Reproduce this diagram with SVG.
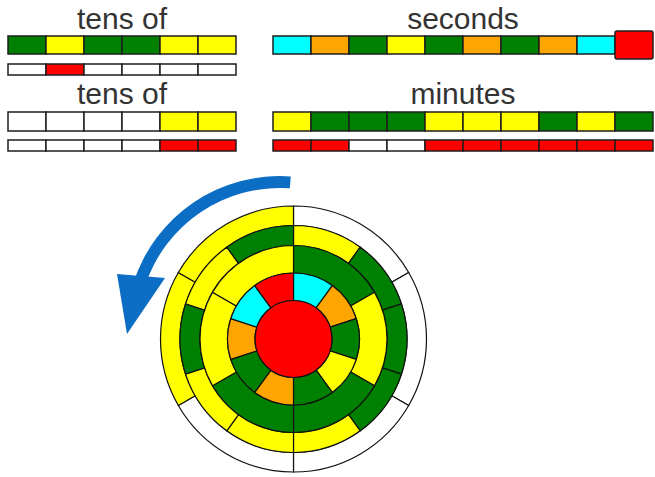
<svg xmlns="http://www.w3.org/2000/svg" xmlns:xlink="http://www.w3.org/1999/xlink" width="655" height="477" viewBox="0 0 655 477">
<style>
.lbl{font-family:"Liberation Sans",Arial,sans-serif;font-size:30px;fill:#333;text-anchor:middle}
.g{fill:#008000}.y{fill:#ffff00}.c{fill:#00ffff}.o{fill:#ffa500}.r{fill:#ff0000}.w{fill:#ffffff}
.cells rect{stroke:#1e1e1e;stroke-width:1.5}
.clock use,.clock circle{stroke:#111;stroke-width:1.2}
.arrow{fill:#0b6ec4}
</style>
<defs>
<path id="sa" d="M0,-66 A66,66 0 0 1 38.794,-53.395 L22.630,-31.147 A38.5,38.5 0 0 0 0,-38.5 Z"/>
<path id="sb" d="M0,-93.5 A93.5,93.5 0 0 1 80.973,-46.75 L57.158,-33 A66,66 0 0 0 0,-66 Z"/>
<path id="sc" d="M0,-113.5 A113.5,113.5 0 0 1 66.714,-91.823 L54.958,-75.643 A93.5,93.5 0 0 0 0,-93.5 Z"/>
<path id="sd" d="M0,-133 A133,133 0 0 1 115.181,-66.5 L98.294,-56.75 A113.5,113.5 0 0 0 0,-113.5 Z"/>
</defs>
<rect width="655" height="477" fill="#fff"/>
<g id="labels">
<text class="lbl" x="122" y="29">tens of</text>
<text class="lbl" x="463" y="29">seconds</text>
<text class="lbl" x="122" y="104">tens of</text>
<text class="lbl" x="463" y="104">minutes</text>
</g>
<g id="bar-tens-1" class="cells">
<rect class="g" x="8" y="36" width="38" height="18"/><rect class="y" x="46" y="36" width="38" height="18"/><rect class="g" x="84" y="36" width="38" height="18"/><rect class="g" x="122" y="36" width="38" height="18"/><rect class="y" x="160" y="36" width="38" height="18"/><rect class="y" x="198" y="36" width="38" height="18"/>
<rect class="w" x="8" y="64" width="38" height="11"/><rect class="r" x="46" y="64" width="38" height="11"/><rect class="w" x="84" y="64" width="38" height="11"/><rect class="w" x="122" y="64" width="38" height="11"/><rect class="w" x="160" y="64" width="38" height="11"/><rect class="w" x="198" y="64" width="38" height="11"/>
</g>
<g id="bar-tens-2" class="cells">
<rect class="w" x="8" y="112" width="38" height="19"/><rect class="w" x="46" y="112" width="38" height="19"/><rect class="w" x="84" y="112" width="38" height="19"/><rect class="w" x="122" y="112" width="38" height="19"/><rect class="y" x="160" y="112" width="38" height="19"/><rect class="y" x="198" y="112" width="38" height="19"/>
<rect class="w" x="8" y="140" width="38" height="11"/><rect class="w" x="46" y="140" width="38" height="11"/><rect class="w" x="84" y="140" width="38" height="11"/><rect class="w" x="122" y="140" width="38" height="11"/><rect class="r" x="160" y="140" width="38" height="11"/><rect class="r" x="198" y="140" width="38" height="11"/>
</g>
<g id="bar-seconds" class="cells">
<rect class="c" x="273" y="36" width="38" height="18"/><rect class="o" x="311" y="36" width="38" height="18"/><rect class="g" x="349" y="36" width="38" height="18"/><rect class="y" x="387" y="36" width="38" height="18"/><rect class="g" x="425" y="36" width="38" height="18"/><rect class="o" x="463" y="36" width="38" height="18"/><rect class="g" x="501" y="36" width="38" height="18"/><rect class="o" x="539" y="36" width="38" height="18"/><rect class="c" x="577" y="36" width="38" height="18"/>
<rect class="r" x="615" y="31" width="38" height="28" rx="2"/>
</g>
<g id="bar-minutes" class="cells">
<rect class="y" x="273" y="112" width="38" height="19"/><rect class="g" x="311" y="112" width="38" height="19"/><rect class="g" x="349" y="112" width="38" height="19"/><rect class="g" x="387" y="112" width="38" height="19"/><rect class="y" x="425" y="112" width="38" height="19"/><rect class="y" x="463" y="112" width="38" height="19"/><rect class="y" x="501" y="112" width="38" height="19"/><rect class="g" x="539" y="112" width="38" height="19"/><rect class="y" x="577" y="112" width="38" height="19"/><rect class="g" x="615" y="112" width="38" height="19"/>
<rect class="r" x="273" y="140" width="38" height="11"/><rect class="r" x="311" y="140" width="38" height="11"/><rect class="w" x="349" y="140" width="38" height="11"/><rect class="w" x="387" y="140" width="38" height="11"/><rect class="r" x="425" y="140" width="38" height="11"/><rect class="r" x="463" y="140" width="38" height="11"/><rect class="r" x="501" y="140" width="38" height="11"/><rect class="r" x="539" y="140" width="38" height="11"/><rect class="r" x="577" y="140" width="38" height="11"/><rect class="r" x="615" y="140" width="38" height="11"/>
</g>
<g id="clock" class="clock" transform="translate(293.5 339)">
<g id="ring-tens-outer">
<use xlink:href="#sd" class="w" transform="rotate(0)"/><use xlink:href="#sd" class="w" transform="rotate(60)"/><use xlink:href="#sd" class="w" transform="rotate(120)"/><use xlink:href="#sd" class="w" transform="rotate(180)"/><use xlink:href="#sd" class="y" transform="rotate(240)"/><use xlink:href="#sd" class="y" transform="rotate(300)"/>
</g>
<g id="ring-minutes">
<use xlink:href="#sc" class="y" transform="rotate(0)"/><use xlink:href="#sc" class="g" transform="rotate(36)"/><use xlink:href="#sc" class="g" transform="rotate(72)"/><use xlink:href="#sc" class="g" transform="rotate(108)"/><use xlink:href="#sc" class="y" transform="rotate(144)"/><use xlink:href="#sc" class="y" transform="rotate(180)"/><use xlink:href="#sc" class="y" transform="rotate(216)"/><use xlink:href="#sc" class="g" transform="rotate(252)"/><use xlink:href="#sc" class="y" transform="rotate(288)"/><use xlink:href="#sc" class="g" transform="rotate(324)"/>
</g>
<g id="ring-tens-inner">
<use xlink:href="#sb" class="g" transform="rotate(0)"/><use xlink:href="#sb" class="y" transform="rotate(60)"/><use xlink:href="#sb" class="g" transform="rotate(120)"/><use xlink:href="#sb" class="g" transform="rotate(180)"/><use xlink:href="#sb" class="y" transform="rotate(240)"/><use xlink:href="#sb" class="y" transform="rotate(300)"/>
</g>
<g id="ring-seconds">
<use xlink:href="#sa" class="c" transform="rotate(0)"/><use xlink:href="#sa" class="o" transform="rotate(36)"/><use xlink:href="#sa" class="g" transform="rotate(72)"/><use xlink:href="#sa" class="y" transform="rotate(108)"/><use xlink:href="#sa" class="g" transform="rotate(144)"/><use xlink:href="#sa" class="o" transform="rotate(180)"/><use xlink:href="#sa" class="g" transform="rotate(216)"/><use xlink:href="#sa" class="o" transform="rotate(252)"/><use xlink:href="#sa" class="c" transform="rotate(288)"/><use xlink:href="#sa" class="r" transform="rotate(324)"/>
</g>
<circle id="center" class="r" cx="0" cy="0" r="38.5"/>
</g>
<g id="arrow">
<path class="arrow" d="M290.74,176.38 A154,154 0 0 0 133.5,282.4 L144.95,286.1 A142,142 0 0 1 289.9,188.35 Z"/>
<path class="arrow" d="M117,274 L165,278 L127,334 Z"/>
</g>
</svg>
